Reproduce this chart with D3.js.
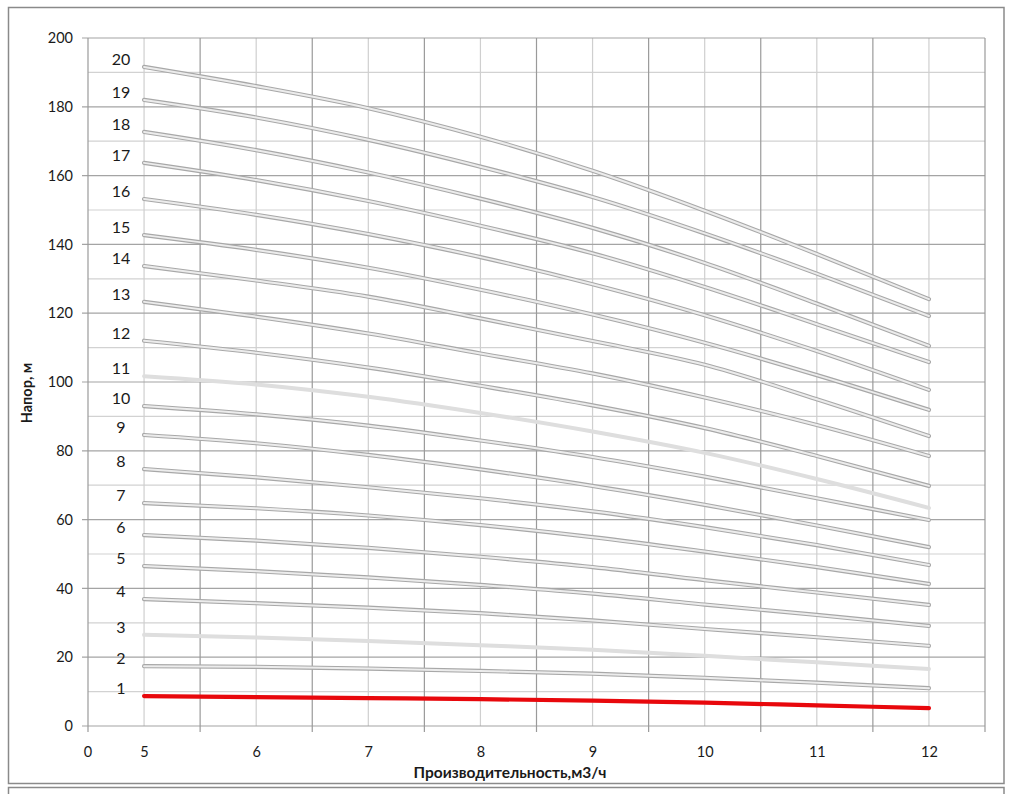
<!DOCTYPE html>
<html>
<head>
<meta charset="utf-8">
<script src="https://cdn.jsdelivr.net/npm/d3@7/dist/d3.min.js"></script>
<style>
  html, body { margin: 0; padding: 0; background: #fff; }
  svg { display: block; }
  text { font-family: Lato, "Open Sans", "Liberation Sans", sans-serif; fill: #1a1a1a; }
</style>
</head>
<body>
<svg id="chart" width="1013" height="794"></svg>
<script>
// ---------------- data ----------------
const flow = [5, 6, 7, 8, 9, 10, 11, 12];
const xTickLabels = ["5", "6", "7", "8", "9", "10", "11", "12"];
const xStartLabel = "0";
const yTicks = [0, 20, 40, 60, 80, 100, 120, 140, 160, 180, 200];
const seriesNames = ["1","2","3","4","5","6","7","8","9","10","11","12","13","14","15","16","17","18","19","20"];
const s1  = [8.7, 8.4, 8.1, 7.8, 7.4, 6.8, 6.0, 5.2];
const s2  = [17.4, 17.2, 16.7, 16.0, 15.2, 14.0, 12.6, 11.0];
const s3  = [26.5, 25.7, 24.7, 23.5, 22.2, 20.4, 18.5, 16.6];
const s4  = [36.9, 35.7, 34.4, 32.8, 30.7, 28.2, 25.8, 23.3];
const s5  = [46.5, 45.0, 43.2, 41.0, 38.5, 35.3, 32.3, 29.1];
const s6  = [55.5, 53.9, 51.8, 49.2, 46.2, 42.4, 38.8, 35.2];
const s7  = [64.8, 63.3, 61.2, 58.4, 54.9, 50.7, 46.2, 41.3];
const s8  = [74.7, 72.3, 69.4, 66.2, 62.4, 57.8, 52.6, 46.8];
const s9  = [84.6, 82.2, 78.8, 74.6, 69.8, 64.3, 58.3, 52.0];
const s10 = [93.0, 90.6, 87.3, 83.0, 78.2, 72.5, 66.2, 59.9];
const s11 = [101.7, 99.3, 95.7, 91.0, 85.6, 79.4, 71.8, 63.4];
const s12 = [112.0, 108.5, 104.2, 98.9, 93.2, 86.6, 78.5, 69.8];
const s13 = [123.3, 119.0, 114.1, 108.3, 102.5, 95.5, 87.5, 78.5];
const s14 = [133.7, 129.5, 124.8, 118.5, 111.9, 105.0, 95.0, 84.3];
const s15 = [142.7, 138.4, 133.2, 126.8, 119.6, 111.4, 102.0, 91.9];
const s16 = [153.2, 148.6, 143.0, 136.3, 128.4, 119.4, 109.0, 97.7];
const s17 = [163.7, 158.7, 152.6, 145.4, 137.4, 127.6, 116.8, 105.8];
const s18 = [172.7, 167.4, 160.9, 153.3, 144.8, 134.6, 122.8, 110.5];
const s19 = [182.0, 176.9, 170.4, 162.6, 153.8, 143.2, 131.5, 119.2];
const s20 = [191.6, 186.0, 179.6, 171.3, 161.4, 149.8, 137.2, 124.1];
const seriesValues = [s1,s2,s3,s4,s5,s6,s7,s8,s9,s10,s11,s12,s13,s14,s15,s16,s17,s18,s19,s20];
const xTitle = "Производительность,м3/ч";
const yTitle = "Напор, м";

// ---------------- layout ----------------
const svg = d3.select("#chart");
const L = 88, R = 985, T = 38, B = 726;
const x = d3.scaleLinear().domain([4.5, 12.5]).range([L, R]);
const y = d3.scaleLinear().domain([0, 200]).range([B, T]);

// outer frames
svg.append("rect").attr("x", 8.5).attr("y", 7.5).attr("width", 995.5).attr("height", 776)
  .attr("fill", "none").attr("stroke", "#8a8a8a").attr("stroke-width", 1.5);
svg.append("rect").attr("x", 8.5).attr("y", 787.5).attr("width", 995.5).attr("height", 30)
  .attr("fill", "none").attr("stroke", "#8a8a8a").attr("stroke-width", 1.5);

const g = svg.append("g");

// minor horizontal gridlines (every 10)
const minorY = d3.range(10, 200, 20);
g.selectAll(".hmin").data(minorY).enter().append("line")
  .attr("x1", L).attr("x2", R).attr("y1", d => y(d)).attr("y2", d => y(d))
  .attr("stroke", "#d2d2d2").attr("stroke-width", 1.2);
// minor vertical gridlines (at integer flows)
g.selectAll(".vmin").data(flow).enter().append("line")
  .attr("y1", T).attr("y2", B).attr("x1", d => x(d)).attr("x2", d => x(d))
  .attr("stroke", "#cfcfcf").attr("stroke-width", 1.2);
// major horizontal gridlines
g.selectAll(".hmaj").data(yTicks).enter().append("line")
  .attr("x1", L - 6).attr("x2", R).attr("y1", d => y(d)).attr("y2", d => y(d))
  .attr("stroke", "#a4a4a4").attr("stroke-width", 1.2);
// major vertical gridlines (between flows)
const majorX = d3.range(4.5, 12.51, 1);
g.selectAll(".vmaj").data(majorX).enter().append("line")
  .attr("y1", T).attr("y2", B + 6).attr("x1", d => x(d)).attr("x2", d => x(d))
  .attr("stroke", "#9a9a9a").attr("stroke-width", 1.2);

// axes labels through d3 axes
const yAxis = d3.axisLeft(y).tickValues(yTicks).tickSize(0).tickPadding(15);
const ya = svg.append("g").attr("transform", `translate(${L},0)`).call(yAxis);
ya.select(".domain").remove();
ya.selectAll("text").style("font-size", "14.5px").style("font-family", "Lato, 'Open Sans', sans-serif").attr("fill", "#1a1a1a");

const xAxis = d3.axisBottom(x).tickValues(flow).tickFormat((d, i) => xTickLabels[i]).tickSize(0).tickPadding(21);
const xa = svg.append("g").attr("transform", `translate(0,${B})`).call(xAxis);
xa.select(".domain").remove();
xa.selectAll("text").style("font-size", "14.5px").style("font-family", "Lato, 'Open Sans', sans-serif").attr("fill", "#1a1a1a");
svg.append("text").attr("x", x(4.5)).attr("y", B + 31).attr("text-anchor", "middle")
  .style("font-size", "14.5px").text(xStartLabel);

// series
const line = d3.line().x((d, i) => x(flow[i])).y(d => y(d)).curve(d3.curveMonotoneX);
const light = new Set(["3", "11"]);
seriesValues.forEach((vals, k) => {
  const name = seriesNames[k];
  if (name === "1") {
    g.append("path").attr("d", line(vals)).attr("fill", "none")
      .attr("stroke", "#e8080c").attr("stroke-width", 4.2).attr("stroke-linecap", "round");
  } else if (light.has(name)) {
    g.append("path").attr("d", line(vals)).attr("fill", "none")
      .attr("stroke", "#dedede").attr("stroke-width", 4).attr("stroke-linecap", "round");
  } else {
    g.append("path").attr("d", line(vals)).attr("fill", "none")
      .attr("stroke", "#a8a8a8").attr("stroke-width", 4.2).attr("stroke-linecap", "round");
    g.append("path").attr("d", line(vals)).attr("fill", "none")
      .attr("stroke", "#ececec").attr("stroke-width", 2).attr("stroke-linecap", "round");
  }
  svg.append("text").attr("x", 121).attr("y", y(vals[0]) - 6)
    .attr("text-anchor", "middle").attr("dominant-baseline", "middle")
    .style("font-size", "16px").text(name);
});

// titles
svg.append("text").attr("x", 510).attr("y", 778).attr("text-anchor", "middle")
  .style("font-size", "15.5px").style("font-weight", "bold").text(xTitle);
svg.append("text").attr("transform", `translate(32,393) rotate(-90)`).attr("text-anchor", "middle")
  .style("font-size", "14.5px").style("font-weight", "bold").text(yTitle);
</script>
</body>
</html>
